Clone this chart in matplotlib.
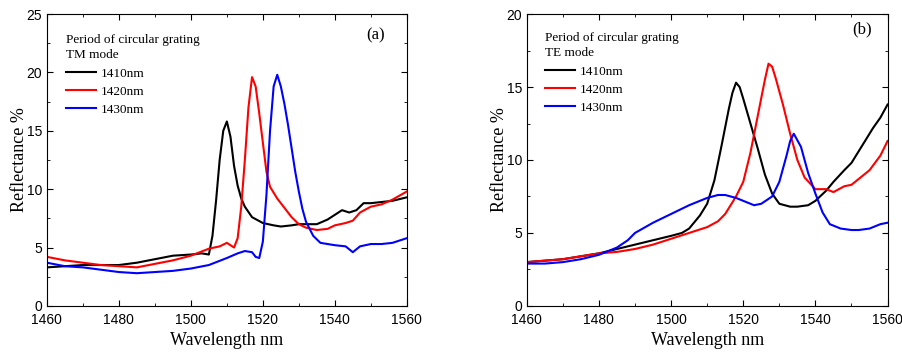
import matplotlib.pyplot as plt
from matplotlib.ticker import MultipleLocator

# panel (a) TM mode
tm_1410_x = [1460, 1465, 1470, 1475, 1480, 1485, 1490, 1495, 1500, 1503, 1505, 1506, 1507, 1508, 1509, 1510,
             1511, 1512, 1513, 1514, 1515, 1517, 1520, 1523, 1525, 1528, 1530, 1533, 1535, 1538, 1540, 1542,
             1544, 1546, 1548, 1550, 1553, 1556, 1560]
tm_1410_y = [3.3, 3.4, 3.5, 3.5, 3.5, 3.7, 4.0, 4.3, 4.4, 4.5, 4.4, 6.0, 9.0, 12.5, 15.0, 15.8,
             14.5, 12.0, 10.3, 9.2, 8.5, 7.6, 7.1, 6.9, 6.8, 6.9, 7.0, 7.0, 7.0, 7.4, 7.8, 8.2,
             8.0, 8.2, 8.8, 8.8, 8.9, 9.0, 9.3]
tm_1420_x = [1460, 1465, 1470, 1475, 1480, 1485, 1490, 1495, 1500, 1505, 1508, 1510, 1512, 1513, 1514, 1515,
             1516, 1517, 1518, 1519, 1520, 1521, 1522, 1524, 1526, 1528, 1530, 1532, 1535, 1538, 1540, 1543,
             1545, 1547, 1550, 1553, 1556, 1560]
tm_1420_y = [4.2, 3.9, 3.7, 3.5, 3.4, 3.3, 3.6, 3.9, 4.3, 4.9, 5.1, 5.4, 5.0, 5.8, 8.5, 12.5,
             17.0, 19.6, 18.8, 16.5, 14.0, 11.5, 10.2, 9.2, 8.4, 7.6, 7.0, 6.7, 6.5, 6.6, 6.9, 7.1,
             7.3, 8.0, 8.5, 8.7, 9.1, 9.8]
tm_1430_x = [1460, 1465, 1470, 1475, 1480, 1485, 1490, 1495, 1500, 1505, 1510, 1513, 1515, 1517, 1518, 1519,
             1520, 1521, 1522, 1523, 1524, 1525, 1526, 1527, 1528, 1529, 1530, 1531, 1532, 1534, 1536, 1538,
             1540, 1543, 1545, 1547, 1550, 1553, 1556, 1560]
tm_1430_y = [3.7, 3.4, 3.3, 3.1, 2.9, 2.8, 2.9, 3.0, 3.2, 3.5, 4.1, 4.5, 4.7, 4.6, 4.2, 4.1,
             5.5, 9.5, 15.0, 18.8, 19.8, 18.8, 17.3, 15.5, 13.5, 11.5, 9.8, 8.3, 7.2, 6.0, 5.4, 5.3,
             5.2, 5.1, 4.6, 5.1, 5.3, 5.3, 5.4, 5.8]

# panel (b) TE mode
te_1410_x = [1460, 1465, 1470, 1475, 1480, 1485, 1490, 1495, 1500, 1503, 1505, 1508, 1510, 1512, 1514, 1516,
             1517, 1518, 1519, 1520, 1522, 1524, 1526, 1528, 1530, 1533, 1535, 1538, 1540, 1543, 1545, 1548,
             1550, 1553, 1556, 1558, 1560]
te_1410_y = [3.0, 3.1, 3.2, 3.4, 3.6, 3.9, 4.2, 4.5, 4.8, 5.0, 5.3, 6.2, 7.0, 8.6, 11.0, 13.5,
             14.6, 15.3, 15.0, 14.2, 12.5, 10.8, 9.0, 7.7, 7.0, 6.8, 6.8, 6.9, 7.2, 7.9, 8.5, 9.3,
             9.8, 11.0, 12.2, 12.9, 13.8]
te_1420_x = [1460, 1465, 1470, 1475, 1480, 1485, 1490, 1495, 1500, 1505, 1510, 1513, 1515, 1518, 1520, 1522,
             1524, 1526, 1527, 1528, 1529, 1531, 1533, 1535, 1537, 1540, 1543, 1545, 1548, 1550, 1552, 1555,
             1558, 1560]
te_1420_y = [3.0, 3.1, 3.2, 3.4, 3.6, 3.7, 3.9, 4.2, 4.6, 5.0, 5.4, 5.8, 6.3, 7.5, 8.5, 10.5,
             13.0, 15.5, 16.6, 16.4, 15.6, 13.8, 11.8, 10.0, 8.8, 8.0, 8.0, 7.8, 8.2, 8.3, 8.7, 9.3,
             10.3, 11.3]
te_1430_x = [1460, 1465, 1470, 1475, 1480, 1485, 1488, 1490, 1495, 1500, 1505, 1510, 1513, 1515, 1518, 1520,
             1523, 1525, 1528, 1530, 1532, 1533, 1534, 1536, 1538, 1540, 1542, 1544, 1547, 1550, 1552, 1555,
             1558, 1560]
te_1430_y = [2.9, 2.9, 3.0, 3.2, 3.5, 4.0, 4.5, 5.0, 5.7, 6.3, 6.9, 7.4, 7.6, 7.6, 7.4, 7.2,
             6.9, 7.0, 7.5, 8.5, 10.3, 11.3, 11.8, 10.9, 9.1, 7.7, 6.4, 5.6, 5.3, 5.2, 5.2, 5.3,
             5.6, 5.7]

labels = ['1410nm', '1420nm', '1430nm']
colors = ['black', 'red', 'blue']

serif = 'Liberation Serif'
sans = 'Liberation Sans'

fig = plt.figure(figsize=(9.02, 3.52), dpi=100)
ax1 = fig.add_axes([0.052, 0.131, 0.399, 0.829])
ax2 = fig.add_axes([0.584, 0.131, 0.400, 0.829])


def setup(ax, series, mode, ytop, tag, tagpos, legpos):
    for (x, y), lab, c in zip(series, labels, colors):
        ax.plot(x, y, color=c, lw=1.5, label=lab)
    ax.set_xlim(1460, 1560)
    ax.set_ylim(0, ytop)
    ax.xaxis.set_major_locator(MultipleLocator(20))
    ax.xaxis.set_minor_locator(MultipleLocator(10))
    ax.yaxis.set_major_locator(MultipleLocator(5))
    ax.yaxis.set_minor_locator(MultipleLocator(2.5))
    ax.tick_params(which='both', direction='in', top=True, right=True, labelsize=10)
    ax.tick_params(which='major', length=4)
    ax.tick_params(which='minor', length=2.5)
    ax.tick_params(axis='x', which='major', pad=5)
    for t in ax.get_xticklabels() + ax.get_yticklabels():
        t.set_fontfamily(sans)
    ax.set_xlabel('Wavelength nm', fontfamily=serif, fontsize=13, labelpad=4)
    ax.set_ylabel('Reflectance %', fontfamily=serif, fontsize=13, labelpad=-1)
    leg = ax.legend(title='Period of circular grating\n' + mode, alignment='left',
                    loc='upper left', bbox_to_anchor=legpos, frameon=False,
                    prop={'family': serif, 'size': 9.5}, handlelength=2.3,
                    handletextpad=0.35, labelspacing=0.45, borderaxespad=0.2)
    leg.get_title().set_fontfamily(serif)
    leg.get_title().set_fontsize(9.5)
    leg.get_title().set_linespacing(1.35)
    ax.text(tagpos[0], tagpos[1], tag, transform=ax.transAxes, fontfamily=serif,
            fontsize=12, ha='center', va='center')


setup(ax1, [(tm_1410_x, tm_1410_y), (tm_1420_x, tm_1420_y), (tm_1430_x, tm_1430_y)],
      'TM mode', 25, '(a)', (0.913, 0.928), (0.031, 0.958))
setup(ax2, [(te_1410_x, te_1410_y), (te_1420_x, te_1420_y), (te_1430_x, te_1430_y)],
      'TE mode', 20, '(b)', (0.93, 0.949), (0.028, 0.965))

fig.savefig('out.png', dpi=100)
